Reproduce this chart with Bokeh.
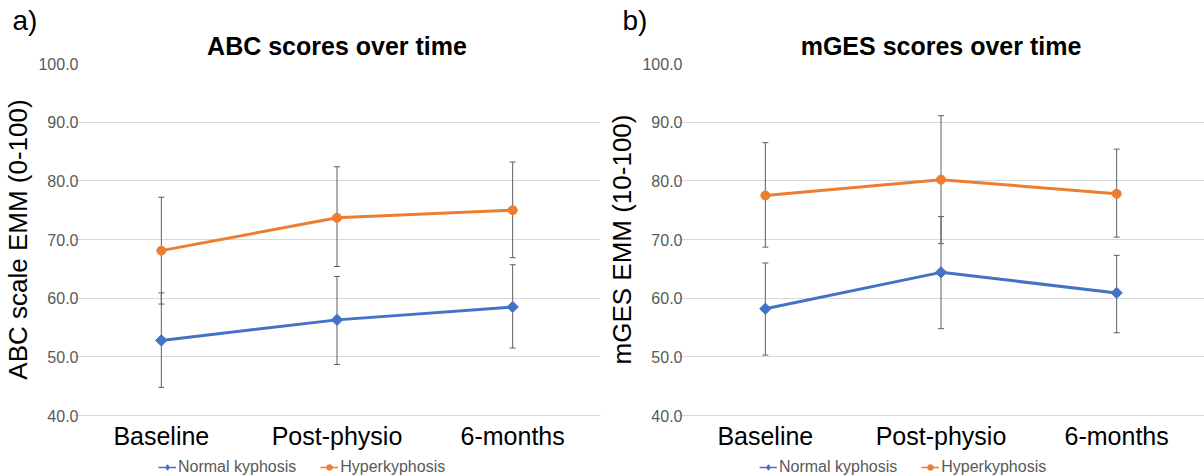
from bokeh.plotting import figure
from bokeh.models import (ColumnDataSource, Whisker, Legend, LegendItem, Title,
                          FactorRange, Range1d, NumeralTickFormatter, FixedTicker, TeeHead)
from bokeh.layouts import row, column
from bokeh.embed import file_html
from bokeh.resources import INLINE
import numpy as np

times = ["Baseline", "Post-physio", "6-months"]

abc_normal = [52.8, 56.3, 58.5]
abc_normal_lo = [44.8, 48.7, 51.5]
abc_normal_hi = [60.9, 63.7, 65.7]
abc_hyper = [68.1, 73.7, 75.0]
abc_hyper_lo = [59.0, 65.4, 66.9]
abc_hyper_hi = [77.2, 82.4, 83.2]

mges_normal = [58.2, 64.4, 60.9]
mges_normal_lo = [50.3, 54.8, 54.1]
mges_normal_hi = [66.0, 73.9, 67.3]
mges_hyper = [77.5, 80.2, 77.8]
mges_hyper_lo = [68.7, 69.3, 70.4]
mges_hyper_hi = [86.5, 91.1, 85.4]

y_ticks = [40, 50, 60, 70, 80, 90, 100]
series_names = ["Normal kyphosis", "Hyperkyphosis"]

BLUE = "#4472C4"
ORANGE = "#ED7D31"
FONT = "Liberation Sans"
W = 602
LEG_H = 20
MAIN_H = 476 - LEG_H
TOP = 63
FRAME_H = 352


def make_panel(letter, title, ylabel, normal, nlo, nhi, hyper, hlo, hhi,
               border_left, border_right, letter_offset, legend_x):
    p = figure(width=W, height=MAIN_H, x_range=FactorRange(*times, range_padding=0),
               y_range=Range1d(40, 100), output_backend="svg", toolbar_location=None,
               title_location=None,
               min_border_left=border_left, min_border_right=border_right,
               min_border_top=TOP, min_border_bottom=MAIN_H - TOP - FRAME_H)
    p.outline_line_color = None

    # chart title (nearest the frame) and panel letter (outer)
    p.add_layout(Title(text=title, align="center", text_font=FONT, text_font_size="25px",
                       text_font_style="bold", text_color="black", standoff=7), "above")
    p.add_layout(Title(text=letter, align="left", offset=letter_offset, text_font=FONT,
                       text_font_size="28px", text_font_style="normal",
                       text_color="black", standoff=-18), "above")

    p.xgrid.grid_line_color = None
    p.ygrid.grid_line_color = "#d9d9d9"
    p.ygrid.grid_line_width = 1

    p.yaxis.ticker = FixedTicker(ticks=y_ticks)
    p.yaxis.formatter = NumeralTickFormatter(format="0.0")
    p.yaxis.axis_line_color = None
    p.yaxis.major_tick_line_color = None
    p.yaxis.minor_tick_line_color = None
    p.yaxis.major_tick_out = 0
    p.yaxis.major_tick_in = 0
    p.yaxis.minor_tick_out = 0
    p.yaxis.major_label_text_font = FONT
    p.yaxis.major_label_text_font_size = "16px"
    p.yaxis.major_label_text_color = "#595959"
    p.yaxis.major_label_standoff = -5
    p.yaxis.axis_label = ylabel
    p.yaxis.axis_label_text_font = FONT
    p.yaxis.axis_label_text_font_size = "26px"
    p.yaxis.axis_label_text_font_style = "normal"
    p.yaxis.axis_label_text_color = "black"
    p.yaxis.axis_label_standoff = 2

    p.xaxis.axis_line_color = "#d9d9d9"
    p.xaxis.major_tick_line_color = None
    p.xaxis.minor_tick_line_color = None
    p.xaxis.major_tick_out = 0
    p.xaxis.major_tick_in = 0
    p.xaxis.major_label_text_font = FONT
    p.xaxis.major_label_text_font_size = "25px"
    p.xaxis.major_label_text_color = "black"
    p.xaxis.major_label_standoff = 6

    src_n = ColumnDataSource(dict(x=times, y=normal, lo=nlo, hi=nhi))
    src_h = ColumnDataSource(dict(x=times, y=hyper, lo=hlo, hi=hhi))

    for src in (src_n, src_h):
        w = Whisker(base="x", upper="hi", lower="lo", source=src,
                    line_color="#5f5f5f", line_width=1, level="underlay",
                    upper_head=TeeHead(size=6, line_color="#5f5f5f", line_width=1),
                    lower_head=TeeHead(size=6, line_color="#5f5f5f", line_width=1))
        p.add_layout(w)

    p.line(x="x", y="y", source=src_n, line_color=BLUE, line_width=3)
    p.scatter(x="x", y="y", source=src_n, marker="square", angle=np.pi / 4, size=8,
              fill_color=BLUE, line_color=BLUE)
    p.line(x="x", y="y", source=src_h, line_color=ORANGE, line_width=3)
    p.scatter(x="x", y="y", source=src_h, marker="circle", size=9,
              fill_color=ORANGE, line_color=ORANGE)

    # legend strip below the chart (its own glyphs lie outside its visible range)
    leg = figure(width=W, height=LEG_H, x_range=FactorRange(*times, range_padding=0),
                 y_range=Range1d(0, 1), output_backend="svg", toolbar_location=None,
                 title_location=None, x_axis_type=None, y_axis_type=None,
                 min_border_left=border_left, min_border_right=border_right,
                 min_border_top=0, min_border_bottom=0)
    leg.outline_line_color = None
    leg.xgrid.visible = False
    leg.ygrid.visible = False
    gl_n = leg.line(x="x", y="y", source=src_n, line_color=BLUE, line_width=1.5)
    gm_n = leg.scatter(x="x", y="y", source=src_n, marker="diamond",
                       size=8, fill_color=BLUE, line_color=BLUE)
    gl_h = leg.line(x="x", y="y", source=src_h, line_color=ORANGE, line_width=1.5)
    gm_h = leg.scatter(x="x", y="y", source=src_h, marker="circle", size=6,
                       fill_color=ORANGE, line_color=ORANGE)
    legend = Legend(items=[LegendItem(label=series_names[0], renderers=[gl_n, gm_n]),
                           LegendItem(label=series_names[1], renderers=[gl_h, gm_h])],
                    orientation="horizontal", location=(legend_x, 0),
                    label_text_font=FONT, label_text_font_size="16px",
                    label_text_color="#595959", glyph_width=18, glyph_height=14,
                    label_height=18, label_standoff=2, spacing=24, padding=0, margin=0,
                    border_line_color=None, background_fill_alpha=0)
    leg.add_layout(legend, "center")

    return column(p, leg, spacing=0)


c1 = make_panel("a)", "ABC scores over time", "ABC scale EMM (0-100)",
                abc_normal, abc_normal_lo, abc_normal_hi,
                abc_hyper, abc_hyper_lo, abc_hyper_hi,
                border_left=72, border_right=2, letter_offset=-61, legend_x=85)
c2 = make_panel("b)", "mGES scores over time", "mGES EMM (10-100)",
                mges_normal, mges_normal_lo, mges_normal_hi,
                mges_hyper, mges_hyper_lo, mges_hyper_hi,
                border_left=75, border_right=0, letter_offset=-55, legend_x=82)

layout = row(c1, c2, spacing=0)
open("out.html", "w").write(file_html(layout, INLINE))
